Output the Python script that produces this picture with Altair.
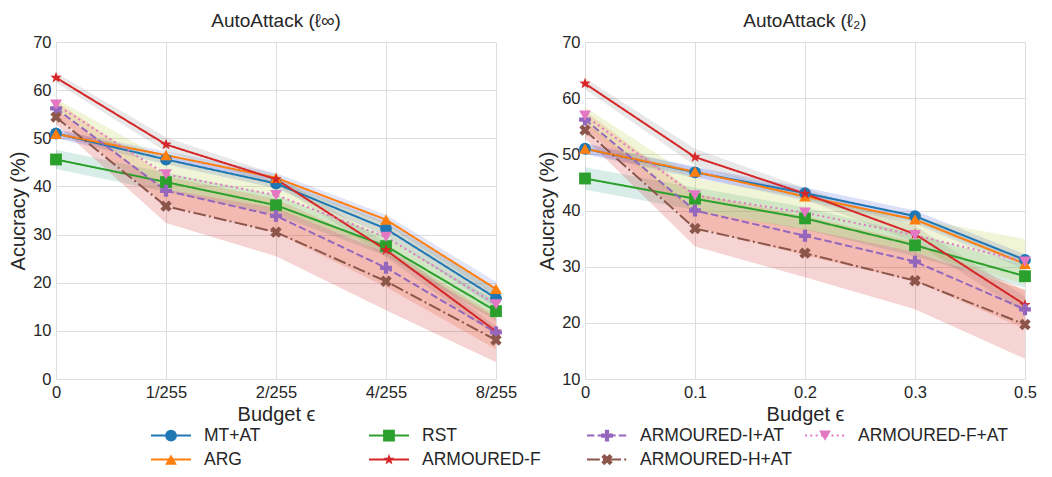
import altair as alt
import pandas as pd

# ---------------- data ----------------
series_names = ["MT+AT", "ARG", "RST", "ARMOURED-F", "ARMOURED-I+AT", "ARMOURED-H+AT", "ARMOURED-F+AT"]
linf_budgets = ["0", "1/255", "2/255", "4/255", "8/255"]
l2_budgets = ["0", "0.1", "0.2", "0.3", "0.5"]

# AutoAttack (l_inf) mean accuracy
linf_mt_at = [51.0, 45.6, 40.6, 31.2, 16.8]
linf_arg = [50.9, 46.5, 41.8, 33.1, 18.7]
linf_rst = [45.6, 40.9, 36.1, 27.6, 14.1]
linf_armoured_f = [62.6, 48.7, 41.5, 26.8, 9.9]
linf_armoured_i_at = [56.2, 39.1, 33.9, 23.1, 9.7]
linf_armoured_h_at = [54.4, 35.9, 30.5, 20.3, 8.1]
linf_armoured_f_at = [57.0, 42.5, 38.2, 29.5, 15.5]

# AutoAttack (l_inf) band half-widths
linf_mt_at_sd = [1.0, 1.0, 1.0, 1.5, 2.0]
linf_arg_sd = [0.8, 0.8, 1.0, 1.0, 1.5]
linf_rst_sd = [2.0, 2.0, 2.0, 2.0, 2.0]
linf_armoured_f_sd = [1.0, 1.5, 1.0, 1.5, 1.0]
linf_armoured_i_at_sd = [1.5, 3.0, 3.5, 4.0, 3.5]
linf_armoured_h_at_sd = [1.5, 3.5, 5.0, 6.0, 4.6]
linf_armoured_f_at_sd = [1.2, 3.0, 3.0, 3.0, 3.0]

# AutoAttack (l_2) mean accuracy
l2_mt_at = [51.0, 46.8, 43.1, 39.0, 31.2]
l2_arg = [51.0, 46.9, 42.5, 38.4, 30.5]
l2_rst = [45.7, 42.1, 38.6, 33.8, 28.3]
l2_armoured_f = [62.6, 49.5, 43.0, 35.8, 23.2]
l2_armoured_i_at = [56.2, 40.0, 35.5, 30.9, 22.4]
l2_armoured_h_at = [54.3, 36.8, 32.4, 27.5, 19.7]
l2_armoured_f_at = [56.9, 42.7, 39.6, 35.6, 30.9]

# AutoAttack (l_2) band half-widths
l2_mt_at_sd = [1.0, 1.0, 1.0, 1.0, 1.0]
l2_arg_sd = [0.8, 0.8, 0.8, 0.8, 1.0]
l2_rst_sd = [2.0, 2.0, 2.0, 2.0, 2.0]
l2_armoured_f_sd = [1.0, 1.5, 1.0, 1.5, 1.5]
l2_armoured_i_at_sd = [1.5, 3.0, 3.5, 3.5, 3.5]
l2_armoured_h_at_sd = [1.5, 3.2, 4.3, 5.1, 6.1]
l2_armoured_f_at_sd = [1.5, 3.0, 3.0, 3.0, 4.0]

linf_means = [linf_mt_at, linf_arg, linf_rst, linf_armoured_f, linf_armoured_i_at, linf_armoured_h_at, linf_armoured_f_at]
linf_sds = [linf_mt_at_sd, linf_arg_sd, linf_rst_sd, linf_armoured_f_sd, linf_armoured_i_at_sd, linf_armoured_h_at_sd, linf_armoured_f_at_sd]
l2_means = [l2_mt_at, l2_arg, l2_rst, l2_armoured_f, l2_armoured_i_at, l2_armoured_h_at, l2_armoured_f_at]
l2_sds = [l2_mt_at_sd, l2_arg_sd, l2_rst_sd, l2_armoured_f_sd, l2_armoured_i_at_sd, l2_armoured_h_at_sd, l2_armoured_f_at_sd]


def build_table(budgets, means, sds):
    rows = []
    for name, m, s in zip(series_names, means, sds):
        for b, v, e in zip(budgets, m, s):
            rows.append({"budget": b, "series": name, "acc": v, "lo": v - e, "hi": v + e})
    return pd.DataFrame(rows)


linf_df = build_table(linf_budgets, linf_means, linf_sds)
l2_df = build_table(l2_budgets, l2_means, l2_sds)

# ---------------- styles ----------------
FONT = "Liberation Sans"
TEXT = "#262626"
# legend entries, read row by row in a 4-column grid
legend_order = ["MT+AT", "RST", "ARMOURED-I+AT", "ARMOURED-F+AT", "ARG", "ARMOURED-F", "ARMOURED-H+AT"]
LEGEND_COLS = 4
legend_df = pd.DataFrame({
    "series": legend_order,
    "col": [i % LEGEND_COLS for i in range(len(legend_order))],
    "row": [i // LEGEND_COLS for i in range(len(legend_order))],
})

line_color = {"MT+AT": "#1f77b4", "ARG": "#ff7f0e", "RST": "#2ca02c", "ARMOURED-F": "#d62728",
              "ARMOURED-I+AT": "#9467bd", "ARMOURED-H+AT": "#8c564b", "ARMOURED-F+AT": "#e377c2"}
band_color = {"MT+AT": "#4c5fd5", "ARG": "#6d7fd6", "RST": "#3aa58a", "ARMOURED-F": "#8c8c8c",
              "ARMOURED-I+AT": "#e8602c", "ARMOURED-H+AT": "#d62728", "ARMOURED-F+AT": "#b5cf3d"}
dash = {"MT+AT": [1, 0], "ARG": [1, 0], "RST": [1, 0], "ARMOURED-F": [1, 0],
        "ARMOURED-I+AT": [7.4, 3.2], "ARMOURED-H+AT": [12.8, 3.2, 2, 3.2], "ARMOURED-F+AT": [2, 3.3]}
marker = {"MT+AT": "circle", "ARG": "triangle-up", "RST": "square",
          "ARMOURED-F": "M0,-1L0.24,-0.33L0.95,-0.31L0.39,0.13L0.59,0.81L0,0.41L-0.59,0.81L-0.39,0.13L-0.95,-0.31L-0.24,-0.33Z",
          "ARMOURED-I+AT": "M-0.36,-1L0.36,-1L0.36,-0.36L1,-0.36L1,0.36L0.36,0.36L0.36,1L-0.36,1L-0.36,0.36L-1,0.36L-1,-0.36L-0.36,-0.36Z",
          "ARMOURED-H+AT": "M-0.45,-0.96L0,-0.51L0.45,-0.96L0.96,-0.45L0.51,0L0.96,0.45L0.45,0.96L0,0.51L-0.45,0.96L-0.96,0.45L-0.51,0L-0.96,-0.45Z",
          "ARMOURED-F+AT": "triangle-down"}
MARKER_SIZE = 140

stroke_scale = alt.Scale(domain=legend_order, range=[line_color[n] for n in legend_order])
dash_scale = alt.Scale(domain=legend_order, range=[dash[n] for n in legend_order])
band_scale = alt.Scale(domain=legend_order, range=[band_color[n] for n in legend_order])
shape_scale = alt.Scale(domain=legend_order, range=[marker[n] for n in legend_order])
panel_view = alt.ViewBackground(stroke="#cccccc", strokeWidth=1.25)


def panel(df, budgets, ymin, title):
    x = alt.X("budget:O", sort=budgets, scale=alt.Scale(type="point", padding=0),
              axis=alt.Axis(title="Budget ϵ", labelAngle=0))
    ys = alt.Scale(domain=[ymin, 70], nice=False, zero=False)
    ya = alt.Axis(title="Acucracy (%)", values=list(range(ymin, 71, 10)))
    base = alt.Chart(df)
    band = base.mark_area(opacity=0.2).encode(
        x=x, y=alt.Y("lo:Q", scale=ys, axis=ya), y2="hi:Q",
        color=alt.Color("series:N", scale=band_scale, legend=None))
    line = base.mark_line(strokeWidth=2).encode(
        x=x, y=alt.Y("acc:Q", scale=ys, axis=ya),
        stroke=alt.Stroke("series:N", scale=stroke_scale, legend=None),
        strokeDash=alt.StrokeDash("series:N", scale=dash_scale, legend=None))
    pts = base.mark_point(filled=True, size=MARKER_SIZE, opacity=1, strokeWidth=0).encode(
        x=x, y=alt.Y("acc:Q", scale=ys, axis=ya),
        fill=alt.Fill("series:N", scale=stroke_scale, legend=None),
        shape=alt.Shape("series:N", scale=shape_scale, legend=None))
    return alt.layer(band, line, pts).properties(width=440, height=337, title=title, view=panel_view)


left = panel(linf_df, linf_budgets, 0, "AutoAttack (ℓ∞)")
right = panel(l2_df, l2_budgets, 10, "AutoAttack (ℓ₂)")

# ---------------- legend (line + marker + label per series) ----------------
lx = alt.X("col:O", scale=alt.Scale(type="point", padding=0.5275), axis=None)
ly = alt.Y("row:O", scale=alt.Scale(type="point", padding=0.4), axis=None)
lbase = alt.Chart(legend_df)
leg_line = lbase.mark_point(shape="stroke", size=1600, strokeWidth=2, filled=False, opacity=1).encode(
    x=lx, y=ly,
    stroke=alt.Stroke("series:N", scale=stroke_scale, legend=None),
    strokeDash=alt.StrokeDash("series:N", scale=dash_scale, legend=None))
leg_mark = lbase.mark_point(filled=True, size=MARKER_SIZE, opacity=1, strokeWidth=0).encode(
    x=lx, y=ly,
    fill=alt.Fill("series:N", scale=stroke_scale, legend=None),
    shape=alt.Shape("series:N", scale=shape_scale, legend=None))
leg_text = lbase.mark_text(align="left", baseline="middle", dx=33, font=FONT, fontSize=17.5,
                           color=TEXT).encode(x=lx, y=ly, text="series:N")
legend_chart = alt.layer(leg_line, leg_mark, leg_text).properties(
    width=884, height=43.2, view=alt.ViewBackground(strokeOpacity=0))

chart = alt.vconcat(
    alt.hconcat(left, right, spacing=20),
    legend_chart,
    spacing=1,
).properties(
    padding={"left": 0, "top": 4, "right": 0, "bottom": 0}
).configure_view(
    strokeOpacity=0
).configure_axis(
    labelFont=FONT, labelFontSize=16.5, labelColor=TEXT, labelPadding=5,
    titleFont=FONT, titleFontSize=20, titleFontWeight="normal", titleColor=TEXT,
    titlePadding=4, grid=True, gridColor="#dddddd", gridWidth=1, ticks=False, domain=False
).configure_title(
    font=FONT, fontSize=19, fontWeight="normal", color=TEXT, offset=3
)

chart.save("out.html", embed_options={"renderer": "svg", "actions": False})
